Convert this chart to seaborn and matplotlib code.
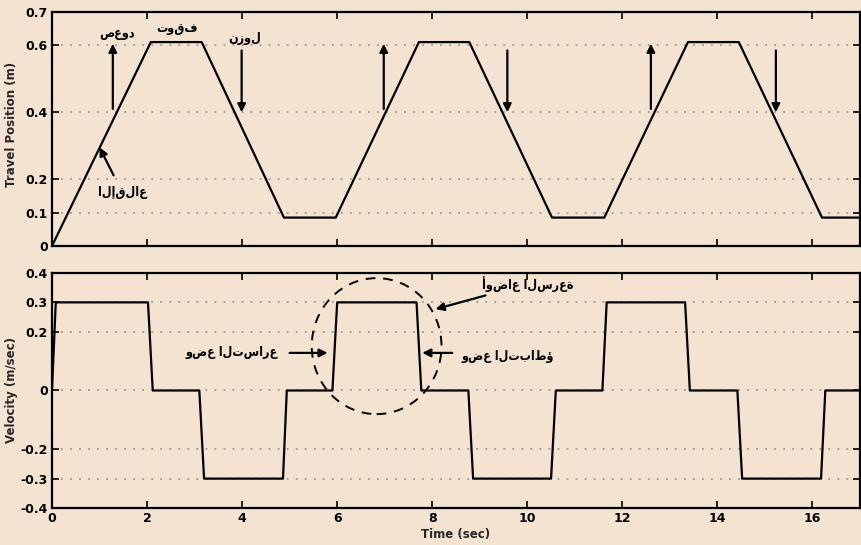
import numpy as np
import pandas as pd
import seaborn as sns
import matplotlib
matplotlib.use("Agg")
import matplotlib.pyplot as plt
from matplotlib.patches import Ellipse

# ---------------- data ----------------
pos_time = [0, 2.08, 3.15, 4.88, 5.97, 7.72, 8.78, 10.52, 11.62, 13.38, 14.45, 16.2, 17.0]
pos_value = [0, 0.61, 0.61, 0.085, 0.085, 0.61, 0.61, 0.085, 0.085, 0.61, 0.61, 0.085, 0.085]

vel_time = [0, 0.08, 2.02, 2.12, 3.1, 3.2, 4.86, 4.94, 5.9, 6.0, 7.67, 7.77, 8.76, 8.86,
            10.5, 10.6, 11.58, 11.67, 13.32, 13.42, 14.42, 14.52, 16.18, 16.27, 17.0]
vel_value = [0, 0.3, 0.3, 0, 0, -0.3, -0.3, 0, 0, 0.3, 0.3, 0, 0, -0.3,
             -0.3, 0, 0, 0.3, 0.3, 0, 0, -0.3, -0.3, 0, 0]

pos_yticks = [0, 0.1, 0.2, 0.4, 0.6, 0.7]
pos_ytick_labels = ["0", "0.1", "0.2", "0.4", "0.6", "0.7"]
vel_yticks = [-0.4, -0.3, -0.2, 0, 0.2, 0.3, 0.4]
vel_ytick_labels = ["-0.4", "-0.3", "-0.2", "0", "0.2", "0.3", "0.4"]
xticks = [0, 2, 4, 6, 8, 10, 12, 14, 16]
xtick_labels = ["0", "2", "4", "6", "8", "10", "12", "14", "16"]

up_arrow_times = [1.28, 6.98, 12.6]
down_arrow_times = [3.99, 9.58, 15.23]

label_ascend = "صعود"
label_stop = "توقف"
label_descend = "نزول"
label_takeoff = "الإقلاع"
label_speed_modes = "أوضاع السرعة"
label_accel = "وضع التسارع"
label_decel = "وضع التباطؤ"

# ---------------- style ----------------
BG = "#F3E3D0"
sns.set_theme(style="ticks")
plt.rcParams['font.family'] = ['Liberation Sans Narrow', 'DejaVu Sans']
plt.rcParams['font.weight'] = 'bold'
plt.rcParams['axes.labelweight'] = 'bold'
plt.rcParams['axes.facecolor'] = BG
plt.rcParams['figure.facecolor'] = BG

fig = plt.figure(figsize=(8.62, 5.45), dpi=100)
ax1 = fig.add_axes([0.0603, 0.5486, 0.9374, 0.4294])
ax2 = fig.add_axes([0.0603, 0.0679, 0.9374, 0.4312])

pos_df = pd.DataFrame({"Time": pos_time, "Position": pos_value})
vel_df = pd.DataFrame({"Time": vel_time, "Velocity": vel_value})

sns.lineplot(data=pos_df, x="Time", y="Position", ax=ax1, color="black", lw=1.6,
             estimator=None, sort=False)
sns.lineplot(data=vel_df, x="Time", y="Velocity", ax=ax2, color="black", lw=1.6,
             estimator=None, sort=False)

grid_kw = dict(color="#9a9a9a", linestyle=(0, (1, 4)), linewidth=1.3)
for ax, yt, ytl, ylim in [(ax1, pos_yticks, pos_ytick_labels, (0, 0.7)),
                          (ax2, vel_yticks, vel_ytick_labels, (-0.4, 0.4))]:
    ax.set_xlim(0, 17)
    ax.set_ylim(*ylim)
    ax.set_xticks(xticks)
    ax.set_yticks(yt)
    ax.set_yticklabels(ytl)
    ax.tick_params(direction="in", length=5, width=1.2, top=True, right=True,
                   labelsize=9, pad=3, colors="black")
    ax.yaxis.grid(True, **grid_kw)
    ax.xaxis.grid(False)
    for s in ax.spines.values():
        s.set_linewidth(1.6)
        s.set_color("black")
    ax.set_axisbelow(True)

ax1.set_xticklabels([])
ax2.set_xticklabels(xtick_labels)
ax1.set_xlabel("")
ax1.set_ylabel("Travel Position (m)", fontsize=8.5)
ax2.set_ylabel("Velocity (m/sec)", fontsize=8.5)
ax1.yaxis.set_label_coords(-0.042, 0.52)
ax2.yaxis.set_label_coords(-0.042, 0.5)
ax2.set_xlabel("Time (sec)", fontsize=8.5, labelpad=2)

arrow_kw = dict(arrowstyle="-|>", color="black", lw=1.6, mutation_scale=12,
                shrinkA=0, shrinkB=0)
for t in up_arrow_times:
    ax1.annotate("", xy=(t, 0.605), xytext=(t, 0.41), arrowprops=arrow_kw)
for t in down_arrow_times:
    ax1.annotate("", xy=(t, 0.40), xytext=(t, 0.585), arrowprops=arrow_kw)

ar_kw = dict(family=['DejaVu Sans'], fontstretch='condensed', fontweight='bold',
             fontsize=9, va='center', color='black')
ax1.text(1.37, 0.637, label_ascend, ha='center', **ar_kw)
ax1.text(2.62, 0.652, label_stop, ha='center', **ar_kw)
ax1.text(4.05, 0.62, label_descend, ha='center', **ar_kw)
ax1.annotate(label_takeoff, xy=(1.0, 0.295), xytext=(1.48, 0.16), ha='center',
             arrowprops=dict(arrowstyle="-|>", color="black", lw=1.6,
                             mutation_scale=12, shrinkA=6, shrinkB=0),
             **ar_kw)

ax2.add_patch(Ellipse((6.83, 0.151), 2.73, 0.463, fill=False, ec="black",
                      lw=1.4, ls=(0, (5, 4))))
ax2.annotate(label_speed_modes, xy=(8.07, 0.277), xytext=(9.05, 0.363), ha='left',
             arrowprops=dict(arrowstyle="-|>", color="black", lw=1.6,
                             mutation_scale=12, shrinkA=1, shrinkB=0),
             **ar_kw)
ax2.text(4.75, 0.128, label_accel, ha='right', **ar_kw)
ax2.annotate("", xy=(5.8, 0.128), xytext=(5.0, 0.128), arrowprops=arrow_kw)
ax2.text(8.62, 0.115, label_decel, ha='left', **ar_kw)
ax2.annotate("", xy=(7.79, 0.128), xytext=(8.42, 0.128), arrowprops=arrow_kw)

fig.savefig("out.png", dpi=100, facecolor=BG)
